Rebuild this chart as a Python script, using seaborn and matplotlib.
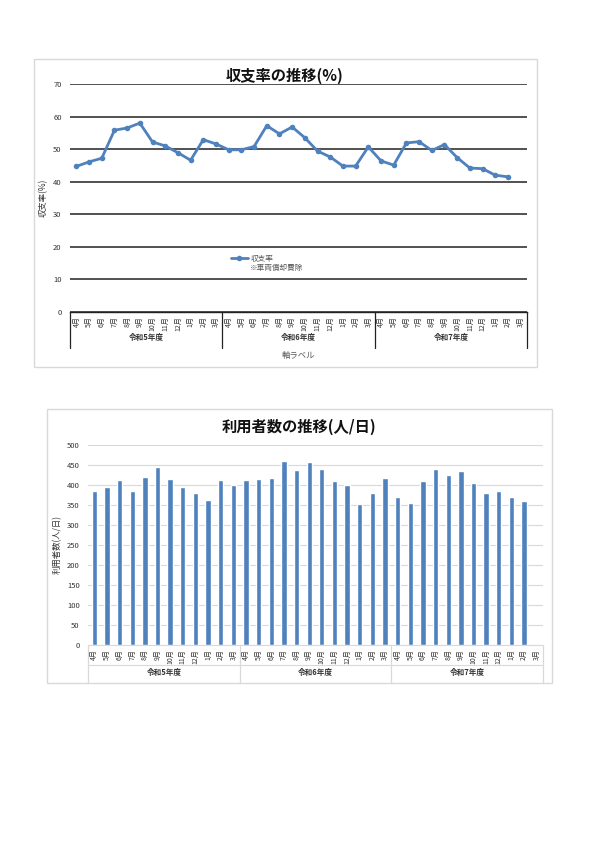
import numpy as np
import pandas as pd
import seaborn as sns
import matplotlib.pyplot as plt
from matplotlib.patches import Rectangle

# Data
months = ["4月", "5月", "6月", "7月", "8月", "9月", "10月", "11月", "12月", "1月", "2月", "3月"]
fiscal_years = ["令和5年度", "令和6年度", "令和7年度"]

# 収支率(%) - last month (令和7年度 3月) not yet available
ratio_r5 = [44.7, 46.1, 47.2, 55.8, 56.5, 58.0, 52.2, 51.0, 48.9, 46.6, 52.9, 51.6]
ratio_r6 = [49.8, 49.8, 50.8, 57.2, 54.7, 56.8, 53.5, 49.4, 47.6, 44.8, 44.8, 50.7]
ratio_r7 = [46.4, 45.1, 51.9, 52.3, 49.6, 51.4, 47.4, 44.2, 44.0, 42.0, 41.5, np.nan]

# 利用者数(人/日)
users_r5 = [386, 395, 413, 384, 419, 444, 416, 395, 381, 362, 412, 400]
users_r6 = [412, 415, 417, 461, 438, 458, 441, 409, 399, 353, 381, 417]
users_r7 = [369, 354, 409, 439, 424, 436, 404, 381, 384, 371, 361, np.nan]

BLUE = "#4F81BD"

sns.set_theme(style="white")
plt.rcParams["font.family"] = ["Noto Sans CJK JP", "DejaVu Sans"]

n = len(months) * len(fiscal_years)
idx = np.arange(n)
df = pd.DataFrame({
    "idx": idx,
    "ratio": ratio_r5 + ratio_r6 + ratio_r7,
    "users": users_r5 + users_r6 + users_r7,
})
month_labels = months * len(fiscal_years)

W, H = 600, 848
fig = plt.figure(figsize=(6, 8.48), dpi=100)


def fx(px):
    return px / W


def fy(py):
    return 1 - py / H


# chart frames
for x0, y0, x1, y1 in [(34, 59, 537, 367), (47, 409, 552, 683)]:
    fig.patches.append(Rectangle((fx(x0), fy(y1)), fx(x1) - fx(x0), fy(y0) - fy(y1),
                                 transform=fig.transFigure, fill=False,
                                 ec="#d9d9d9", lw=1.0))


def month_axis(ax, line_color, sep_depth, bottom_line):
    ax.set_xlim(-0.5, n - 0.5)
    ax.set_xticks(idx)
    ax.set_xticklabels(month_labels, rotation=90, fontsize=5, color="#333333")
    ax.tick_params(axis="x", length=0, pad=3)
    ax.set_xticks(np.arange(-0.5, n, 1), minor=True)
    ax.tick_params(axis="x", which="minor", length=3, width=0.5, color=line_color)
    for k in range(len(fiscal_years) + 1):
        ax.plot([k * 12 - 0.5] * 2, [0, -sep_depth], transform=ax.get_xaxis_transform(),
                color=line_color, lw=0.9, clip_on=False)
    if bottom_line is not None:
        ax.plot([-0.5, n - 0.5], [bottom_line] * 2, transform=ax.get_xaxis_transform(),
                color=line_color, lw=0.8, clip_on=False)
    for k, fyname in enumerate(fiscal_years):
        ax.text(k * 12 + 5.5, -sep_depth * 0.72, fyname, transform=ax.get_xaxis_transform(),
                ha="center", va="center", fontsize=5.5, color="#333333", fontweight="bold")


# ---- top: 収支率 ----
ax1 = fig.add_axes([fx(70), fy(312), fx(527) - fx(70), fy(84) - fy(312)])
sns.lineplot(data=df, x="idx", y="ratio", ax=ax1, color=BLUE, lw=2.0,
             marker="o", markersize=4, markeredgewidth=0, label="収支率")
ax1.set_ylim(0, 70)
ax1.set_yticks(range(0, 71, 10))
ax1.tick_params(axis="y", labelsize=5.5, length=0, pad=6, colors="#333333")
ax1.grid(axis="y", color="#222222", lw=1.1)
ax1.set_axisbelow(True)
for s in ["top", "right", "left"]:
    ax1.spines[s].set_visible(False)
ax1.spines["bottom"].set_color("#222222")
ax1.spines["bottom"].set_linewidth(1.0)
month_axis(ax1, "#222222", 0.158, None)
ax1.set_xlabel("")
ax1.text(0.5, -0.19, "軸ラベル", transform=ax1.transAxes, ha="center", va="center",
         fontsize=6, color="#555555")
ax1.set_ylabel("収支率(%)", fontsize=6, color="#333333")
ax1.yaxis.set_label_coords(-0.048, 0.5)
leg = ax1.legend(loc="center left", bbox_to_anchor=(0.352, 0.232), frameon=False,
                 fontsize=5.5, handlelength=2.2, handletextpad=0.45, borderpad=0,
                 borderaxespad=0)
for t in leg.get_texts():
    t.set_color("#555555")
ax1.text(0.394, 0.193, "※車両償却費除", transform=ax1.transAxes, fontsize=5.5,
         color="#555555", va="center")
fig.text(fx(285), fy(76), "収支率の推移(%)", ha="center", va="center",
         fontsize=11, fontweight="bold", color="#111111")

# ---- bottom: 利用者数 ----
ax2 = fig.add_axes([fx(88), fy(645), fx(543) - fx(88), fy(445) - fy(645)])
sns.barplot(data=df.dropna(subset=["users"]), x="idx", y="users", order=list(idx),
            ax=ax2, color=BLUE, width=0.42, saturation=1)
ax2.set_ylim(0, 500)
ax2.set_yticks(range(0, 501, 50))
ax2.tick_params(axis="y", labelsize=5.5, length=0, pad=6, colors="#333333")
ax2.grid(axis="y", color="#d9d9d9", lw=0.8)
ax2.set_axisbelow(True)
for s in ["top", "right", "left"]:
    ax2.spines[s].set_visible(False)
ax2.spines["bottom"].set_color("#d9d9d9")
ax2.spines["bottom"].set_linewidth(0.8)
month_axis(ax2, "#d9d9d9", 0.19, -0.1)
ax2.set_xlabel("")
ax2.set_ylabel("利用者数(人/日)", fontsize=6, color="#333333")
ax2.yaxis.set_label_coords(-0.057, 0.5)
fig.text(fx(299), fy(427), "利用者数の推移(人/日)", ha="center", va="center",
         fontsize=11, fontweight="bold", color="#111111")

fig.savefig("out.png", dpi=100, facecolor="white")
